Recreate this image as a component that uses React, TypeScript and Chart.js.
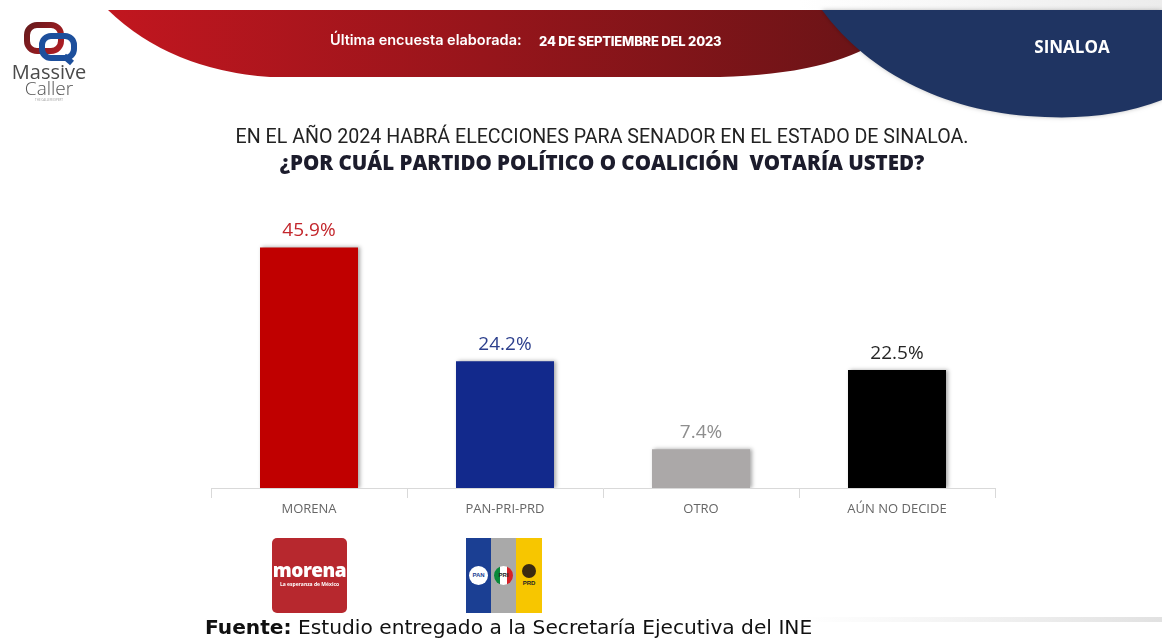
import React, { useEffect, useRef } from "react";
import { Chart, registerables } from "chart.js";

Chart.register(...registerables);

const categories = ["MORENA", "PAN-PRI-PRD", "OTRO", "AÚN NO DECIDE"];
const values = [45.9, 24.2, 7.4, 22.5];
const valueLabels = ["45.9%", "24.2%", "7.4%", "22.5%"];
const barColors = ["#c00000", "#12298c", "#aba8a8", "#000000"];
const labelColors = ["#c3262c", "#2c3f8c", "#8e8e8e", "#262626"];

const headerPlugin = {
  id: "headerShapes",
  beforeDraw(chart: any) {
    const ctx = chart.ctx as CanvasRenderingContext2D;
    ctx.save();
    ctx.fillStyle = "#ffffff";
    ctx.fillRect(0, 0, chart.width, chart.height);
    // top light strip
    const tg = ctx.createLinearGradient(800, 0, 1162, 0);
    tg.addColorStop(0, "#ffffff");
    tg.addColorStop(1, "#ececec");
    ctx.fillStyle = tg;
    ctx.fillRect(800, 0, 362, 10);
    // red banner
    const rg = ctx.createLinearGradient(110, 0, 860, 0);
    rg.addColorStop(0, "#c1161f");
    rg.addColorStop(1, "#6c1417");
    ctx.fillStyle = rg;
    ctx.beginPath();
    ctx.moveTo(108, 10);
    ctx.lineTo(880, 10);
    ctx.lineTo(880, 40);
    ctx.quadraticCurveTo(830, 74, 720, 77);
    ctx.lineTo(270, 77);
    ctx.quadraticCurveTo(170, 70, 108, 10);
    ctx.closePath();
    ctx.fill();
    // blue shape
    ctx.fillStyle = "#1f3462";
    ctx.shadowColor = "rgba(0,0,0,0.25)";
    ctx.shadowBlur = 4;
    ctx.beginPath();
    ctx.moveTo(822, 10);
    ctx.lineTo(1162, 10);
    ctx.lineTo(1162, 100);
    ctx.quadraticCurveTo(1110, 120, 1045, 117);
    ctx.bezierCurveTo(950, 114, 870, 75, 822, 10);
    ctx.closePath();
    ctx.fill();
    ctx.shadowBlur = 0;
    ctx.shadowColor = "transparent";
    // Massive Caller icon
    ctx.lineWidth = 6;
    ctx.lineJoin = "round";
    const dr = ctx.createLinearGradient(22, 22, 65, 55);
    dr.addColorStop(0, "#5e1a1c");
    dr.addColorStop(1, "#b81d24");
    ctx.strokeStyle = dr;
    ctx.beginPath();
    (ctx as any).roundRect(27, 25, 34, 26, 10);
    ctx.stroke();
    ctx.strokeStyle = "#1d4f9c";
    ctx.beginPath();
    (ctx as any).roundRect(42, 36, 32, 22, 9);
    ctx.stroke();
    ctx.beginPath();
    ctx.moveTo(64, 56);
    ctx.lineTo(72, 63);
    ctx.stroke();
    // bottom light band
    const bg = ctx.createLinearGradient(800, 0, 1162, 0);
    bg.addColorStop(0, "rgba(230,230,230,0)");
    bg.addColorStop(1, "rgba(225,225,225,1)");
    ctx.fillStyle = bg;
    ctx.fillRect(800, 617, 362, 5);
    ctx.restore();
  },
};

const barPlugin = {
  id: "barDecor",
  beforeDatasetsDraw(chart: any) {
    const ctx = chart.ctx as CanvasRenderingContext2D;
    ctx.save();
    ctx.shadowColor = "rgba(0,0,0,0.35)";
    ctx.shadowBlur = 4;
    ctx.shadowOffsetX = 2;
    ctx.shadowOffsetY = 0;
  },
  afterDatasetsDraw(chart: any) {
    const ctx = chart.ctx as CanvasRenderingContext2D;
    ctx.restore();
    ctx.save();
    const meta = chart.getDatasetMeta(0);
    ctx.font = "19px 'Open Sans', sans-serif";
    ctx.textAlign = "center";
    ctx.textBaseline = "middle";
    meta.data.forEach((bar: any, i: number) => {
      ctx.fillStyle = labelColors[i];
      ctx.fillText(valueLabels[i], bar.x, bar.y - 17);
    });
    ctx.restore();
  },
};

function BarChart() {
  const ref = useRef<HTMLCanvasElement | null>(null);
  useEffect(() => {
    if (!ref.current) return;
    const chart = new Chart(ref.current, {
      type: "bar",
      data: {
        labels: categories,
        datasets: [
          {
            data: values,
            backgroundColor: barColors,
            barPercentage: 0.5,
            categoryPercentage: 1,
            borderWidth: 0,
          },
        ],
      },
      options: {
        responsive: false,
        animation: false,
        events: [],
        layout: { padding: { left: 211, right: 167, top: 226, bottom: 0 } },
        plugins: {
          legend: { display: false },
          tooltip: { enabled: false },
          title: { display: false },
        },
        scales: {
          x: {
            afterFit: (s: any) => {
              s.height = 152;
            },
            grid: {
              display: true,
              offset: true,
              drawOnChartArea: false,
              drawTicks: true,
              tickLength: 10,
              color: "#d9d9d9",
            },
            border: { display: true, color: "#d9d9d9", width: 1 },
            ticks: {
              color: "#666666",
              font: { family: "'Open Sans', sans-serif", size: 13 },
              padding: 3,
            },
          },
          y: {
            display: false,
            min: 0,
            max: 50,
          },
        },
      },
      plugins: [headerPlugin, barPlugin],
    });
    return () => chart.destroy();
  }, []);
  return <canvas ref={ref} width={1162} height={640} style={{ position: "absolute", left: 0, top: 0 }} />;
}

const abs = (s: React.CSSProperties): React.CSSProperties => ({ position: "absolute", ...s });

export default function App() {
  return (
    <div
      style={{
        position: "fixed",
        left: 0,
        top: 0,
        width: 1162,
        height: 640,
        overflow: "hidden",
        background: "#fff",
      }}
    >
      <BarChart />
      {/* Logo text */}
      <div style={abs({ left: 0, top: 62, width: 98, textAlign: "center", fontFamily: "'Open Sans', sans-serif", fontSize: 20, color: "#4a4a4a", fontWeight: 500, lineHeight: "19px" })}>
        Massive
      </div>
      <div style={abs({ left: 0, top: 79, width: 98, textAlign: "center", fontFamily: "'Open Sans', sans-serif", fontSize: 19, color: "#555", fontWeight: 300, lineHeight: "19px" })}>
        Caller
      </div>
      <div style={abs({ left: 0, top: 98, width: 98, textAlign: "center", fontFamily: "'Open Sans', sans-serif", fontSize: 3, color: "#999", lineHeight: "4px" })}>
        THE CALLER EXPERT
      </div>
      {/* Header texts */}
      <div style={abs({ left: 330, top: 31, fontFamily: "Inter, 'Open Sans', sans-serif", fontSize: 14.5, fontWeight: 600, color: "#fff", whiteSpace: "nowrap", lineHeight: "18px" })}>
        Última encuesta elaborada:
      </div>
      <div style={abs({ left: 539, top: 32, fontFamily: "Inter, 'Open Sans', sans-serif", fontSize: 13, fontWeight: 800, color: "#fff", whiteSpace: "nowrap", lineHeight: "18px", letterSpacing: -0.2 })}>
        24 DE SEPTIEMBRE DEL 2023
      </div>
      <div style={abs({ left: 1000, top: 36, width: 144, textAlign: "center", fontFamily: "'Open Sans', sans-serif", fontSize: 17, fontWeight: 700, color: "#fff", lineHeight: "22px" })}>
        SINALOA
      </div>
      {/* Title */}
      <div style={abs({ left: 0, top: 125, width: 1204, textAlign: "center", fontFamily: "Roboto, sans-serif", fontSize: 19.6, color: "#222", lineHeight: "24px", whiteSpace: "nowrap" })}>
        EN EL AÑO 2024 HABRÁ ELECCIONES PARA SENADOR EN EL ESTADO DE SINALOA.
      </div>
      <div style={abs({ left: 0, top: 149, width: 1204, textAlign: "center", fontFamily: "'Open Sans', sans-serif", fontSize: 20.5, fontWeight: 800, color: "#1c1c2c", lineHeight: "26px", whiteSpace: "pre" })}>
        {"¿POR CUÁL PARTIDO POLÍTICO O COALICIÓN  VOTARÍA USTED?"}
      </div>
      {/* Morena logo */}
      <div style={abs({ left: 272, top: 538, width: 75, height: 75, background: "#b7282e", borderRadius: 5 })}>
        <div style={abs({ left: 0, top: 22, width: 75, textAlign: "center", fontFamily: "'Open Sans', sans-serif", fontWeight: 800, fontSize: 19, color: "#fff", lineHeight: "20px", letterSpacing: -0.5 })}>
          morena
        </div>
        <div style={abs({ left: 0, top: 43, width: 75, textAlign: "center", fontFamily: "'Open Sans', sans-serif", fontWeight: 700, fontSize: 5, color: "#fff", lineHeight: "6px" })}>
          La esperanza de México
        </div>
      </div>
      {/* PAN-PRI-PRD logo */}
      <div style={abs({ left: 466, top: 538, width: 76, height: 75, display: "flex" })}>
        <div style={{ width: 25, height: 75, background: "#1b3f93", position: "relative" }}>
          <div style={abs({ left: 3, top: 28, width: 19, height: 19, borderRadius: "50%", background: "#fff", color: "#1b3f93", fontSize: 6, fontWeight: 700, fontFamily: "sans-serif", textAlign: "center", lineHeight: "19px" })}>PAN</div>
        </div>
        <div style={{ width: 25, height: 75, background: "#a9a9a9", position: "relative" }}>
          <div style={abs({ left: 3, top: 28, width: 19, height: 19, borderRadius: "50%", background: "linear-gradient(90deg,#0a8a3a 33%,#fff 33%,#fff 66%,#d62027 66%)", color: "#222", fontSize: 6, fontWeight: 700, fontFamily: "sans-serif", textAlign: "center", lineHeight: "19px" })}>PRI</div>
        </div>
        <div style={{ width: 26, height: 75, background: "#f7c600", position: "relative" }}>
          <div style={abs({ left: 6, top: 26, width: 14, height: 14, borderRadius: "50%", background: "#3a2a10" })} />
          <div style={abs({ left: 0, top: 41, width: 26, textAlign: "center", fontSize: 6, fontWeight: 800, fontFamily: "sans-serif", color: "#222", lineHeight: "8px" })}>PRD</div>
        </div>
      </div>
      {/* Footer */}
      <div style={abs({ left: 205, top: 615, fontFamily: "'DejaVu Sans', sans-serif", fontSize: 20.2, color: "#111", whiteSpace: "nowrap", lineHeight: "24px" })}>
        <b>Fuente:</b> Estudio entregado a la Secretaría Ejecutiva del INE
      </div>
    </div>
  );
}
